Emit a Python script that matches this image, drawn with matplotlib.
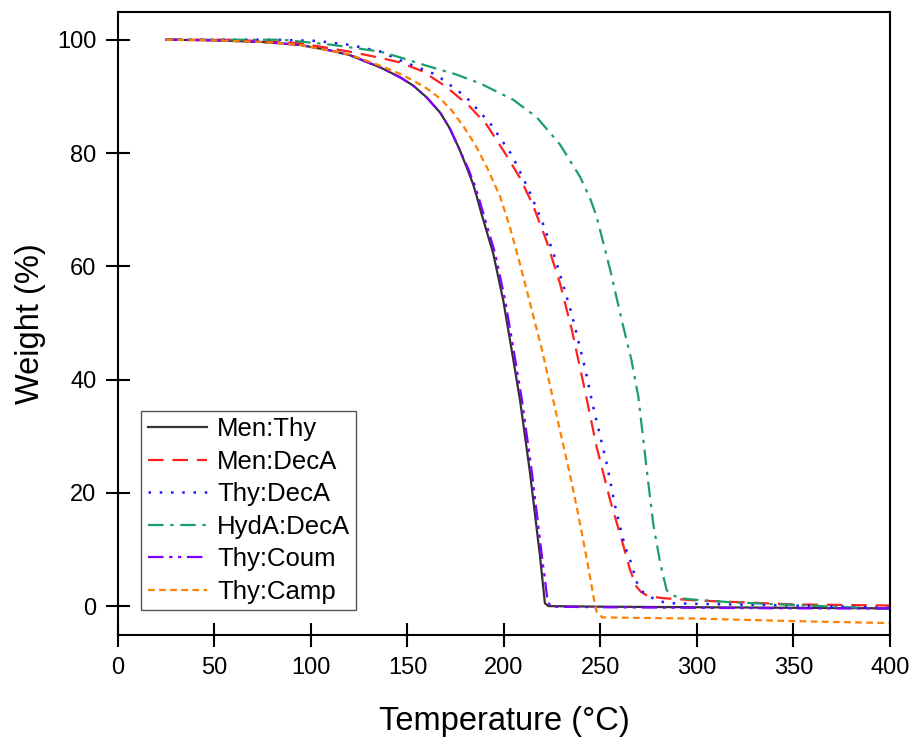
import matplotlib.pyplot as plt

plt.rcParams['font.family'] = ['Liberation Sans', 'DejaVu Sans']

# Men:Thy
t_men_thy = [25, 50, 75, 94, 110, 120, 136, 146, 153, 160, 167, 172, 177, 181, 184, 186, 188, 191, 194.4,
             199.6, 204, 208.3, 213.5, 218.7, 221.2, 223, 250, 300, 350, 400]
w_men_thy = [100, 99.9, 99.6, 99.1, 98.1, 97.3, 95.1, 93.4, 91.9, 89.8, 87.1, 84.3, 80.6, 77.2, 74.5, 72.2, 69.7, 66.2, 62.3,
             54, 45.2, 36.4, 23.5, 8.7, 0.5, 0, -0.1, -0.2, -0.3, -0.4]
# Men:DecA
t_men_deca = [25, 60, 94, 120, 136, 146, 158, 170, 182, 191, 200.5, 208.3, 215, 222, 229, 235, 242, 248, 255,
              261, 265.3, 268.7, 271, 274, 278, 282.5, 300, 350, 400]
w_men_deca = [100, 100, 99.4, 97.9, 96.8, 96.0, 94.4, 91.7, 88.3, 85, 80, 75.6, 70.8, 64.5, 57, 49, 38, 28.1, 18.7,
              11.7, 6.4, 3.4, 2.5, 1.9, 1.6, 1.4, 1.0, 0.3, 0.1]
# Thy:DecA
t_thy_deca = [25, 60, 80, 103, 120, 136, 146, 165, 180, 192.7, 204, 212.4, 220, 226.4, 235, 242, 246, 253, 258,
              262.7, 266, 268.7, 271, 274, 281, 287.7, 300, 350, 400]
w_thy_deca = [100, 100, 100, 99.8, 99.1, 97.9, 96.4, 93.8, 90, 85.3, 79.7, 73.8, 67.7, 61.5, 51.7, 42, 35.5, 25.5, 17,
              10.5, 7.5, 4.3, 2.8, 1.9, 0.8, 0.5, 0.4, 0.1, -0.3]
# HydA:DecA
t_hyda_deca = [25, 60, 85.5, 111, 136, 146, 160, 175, 187.6, 204.8, 217, 229, 239.4, 244.6, 248, 255, 261, 266,
               269.6, 274, 277.3, 281, 284.3, 287, 291, 300, 317, 350, 400]
w_hyda_deca = [100, 100, 100, 99.1, 97.9, 96.9, 95.4, 93.9, 92.3, 89.4, 86.3, 81.5, 75.8, 72, 68.8, 59.4, 50.5, 43.5,
               37, 24, 14.6, 7.5, 2.8, 2.0, 1.4, 1.1, 0.7, 0.2, -0.5]
# Thy:Coum
t_thy_coum = [25, 50, 75, 94, 110, 120, 136, 146, 153, 160, 167, 172, 177, 181.5, 184.6, 186.8, 189, 192, 195.4,
              200.6, 205, 209.3, 214.5, 219.7, 222.5, 224, 250, 300, 350, 400]
w_thy_coum = [100, 99.9, 99.6, 99.1, 98.1, 97.3, 95.1, 93.4, 91.9, 89.8, 87.1, 84.3, 80.6, 77.2, 74.5, 72.2, 69.7, 66.2, 62.3,
              54, 45.2, 36.4, 23.5, 8.7, 1.2, -0.1, -0.2, -0.3, -0.4, -0.4]
# Thy:Camp
t_thy_camp = [25, 50, 75, 94, 120, 136, 146, 153, 160, 167, 173, 179, 185, 191, 198, 203, 208.3, 215, 220, 225.5,
              230, 234, 238, 241, 244, 247, 248, 251, 300, 350, 400]
w_thy_camp = [100, 99.9, 99.6, 99.1, 97.4, 95.4, 94, 92.8, 91.4, 89.6, 87.5, 84.7, 81.5, 77.6, 72.3, 67, 60.4, 51.5, 44.8, 36.4,
              29.5, 23.5, 17, 11.7, 6.3, 0.5, -1, -2.0, -2.2, -2.65, -3.0]

fig = plt.figure(figsize=(9.18, 7.40), dpi=100)
ax = fig.add_axes([0.1285, 0.1419, 0.841, 0.8419])

ax.plot(t_men_thy, w_men_thy, color='#333333', lw=1.6, ls='-', label='Men:Thy')
ax.plot(t_men_deca, w_men_deca, color='#ff2020', lw=1.6, ls=(0, (7, 4)), label='Men:DecA')
ax.plot(t_thy_deca, w_thy_deca, color='#1a1aff', lw=1.8, ls=(0, (1, 3.5)), label='Thy:DecA')
ax.plot(t_hyda_deca, w_hyda_deca, color='#1a9e6a', lw=1.6, ls=(0, (7, 3, 1.5, 3)), label='HydA:DecA')
ax.plot(t_thy_coum, w_thy_coum, color='#8000ff', lw=1.6, ls=(0, (7, 2.5, 1.5, 2.5, 1.5, 2.5)), label='Thy:Coum')
ax.plot(t_thy_camp, w_thy_camp, color='#ff8000', lw=1.6, ls=(0, (3, 2)), label='Thy:Camp')

ax.set_xlim(0, 400)
ax.set_ylim(-5.1, 104.9)
ax.set_xticks(range(0, 401, 50))
ax.set_yticks(range(0, 101, 20))
ax.tick_params(direction='inout', length=17, width=1.5, labelsize=17, pad=7)
for s in ax.spines.values():
    s.set_linewidth(1.5)

ax.set_xlabel('Temperature (°C)', fontsize=23.5, labelpad=20)
ax.set_ylabel('Weight (%)', fontsize=23.5, labelpad=8)

leg = ax.legend(loc='lower left', bbox_to_anchor=(0.03, 0.04), borderaxespad=0, fontsize=18.5,
                handlelength=2.3, handletextpad=0.4, labelspacing=0.33,
                borderpad=0.25, fancybox=False, framealpha=1)
leg.get_frame().set_edgecolor('#555555')
leg.get_frame().set_linewidth(1.0)

fig.savefig('out.png', dpi=100)
